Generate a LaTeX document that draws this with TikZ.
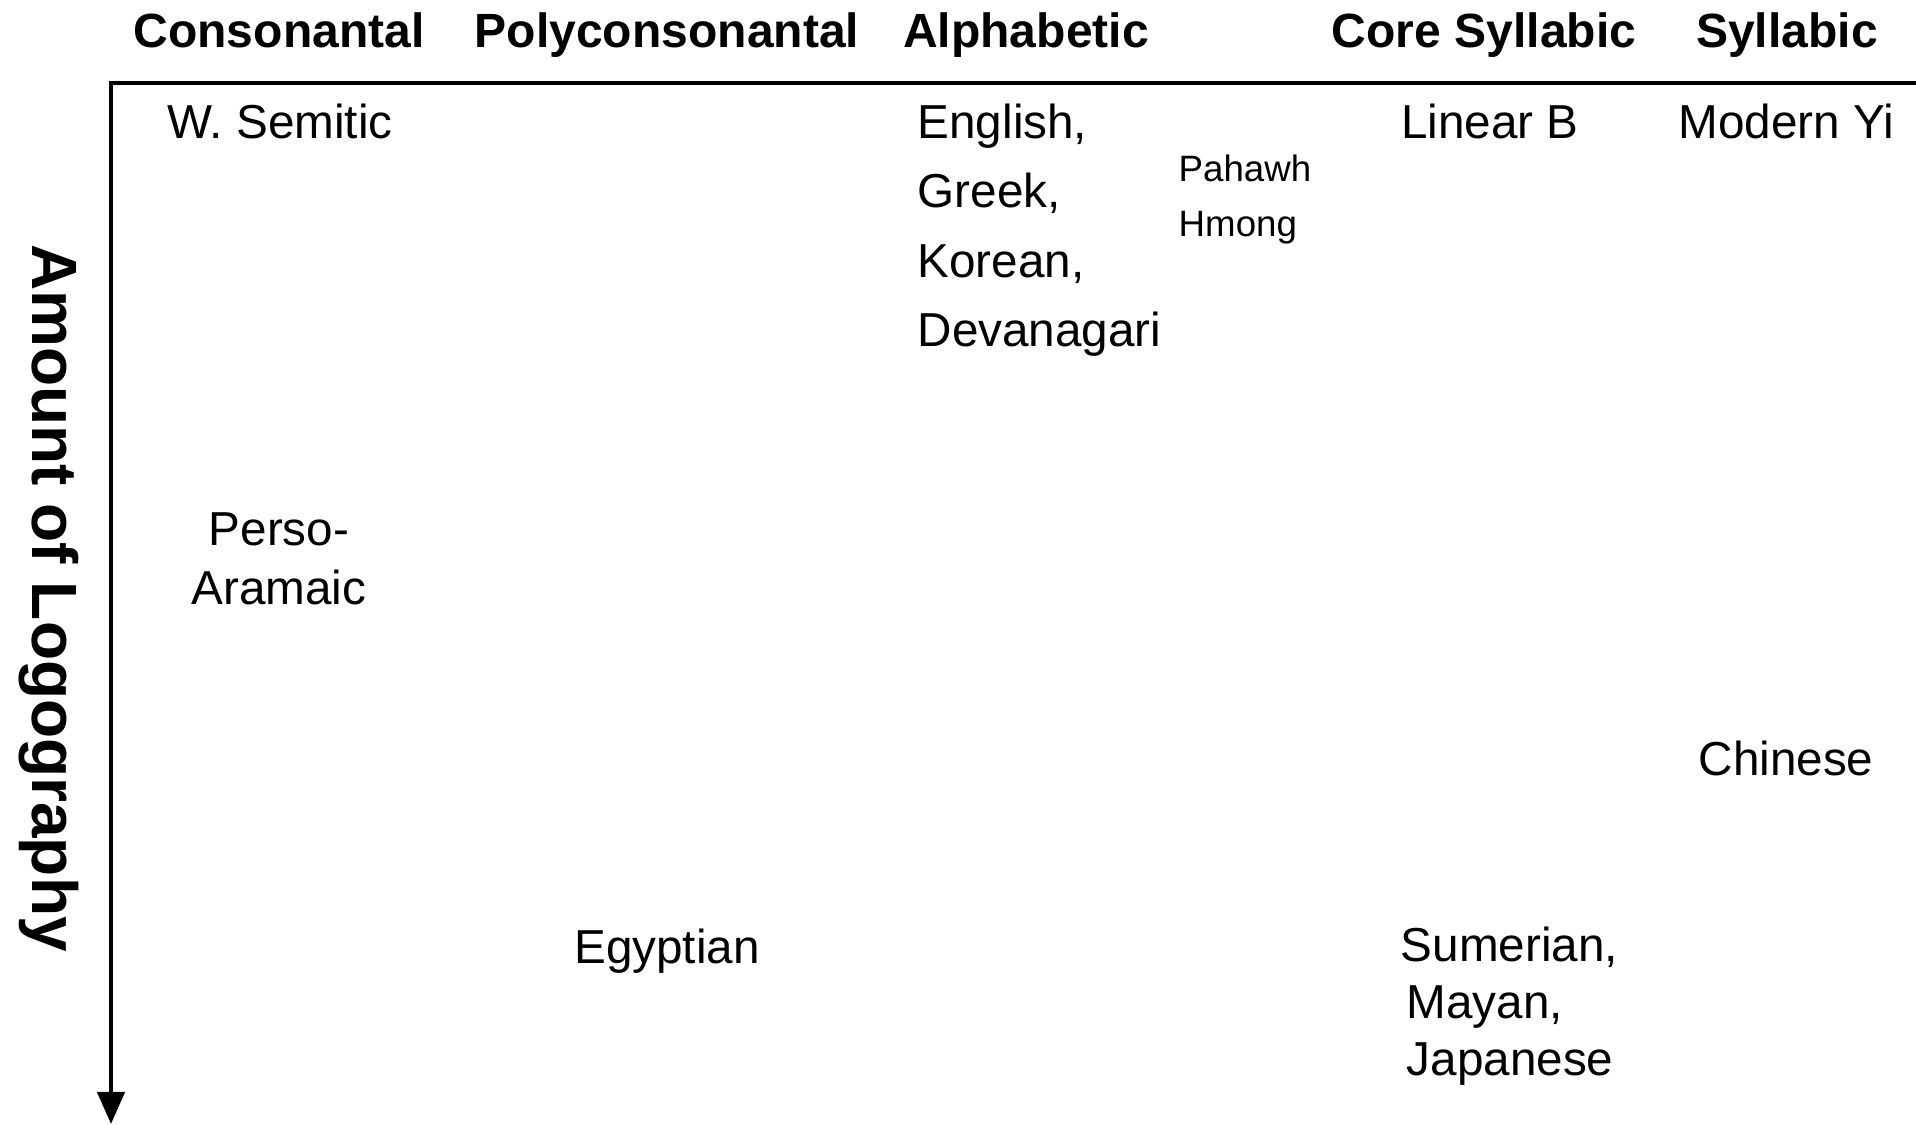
\documentclass[tikz,border=0pt]{standalone}
\usepackage{fontspec}
\setmainfont{Liberation Sans}
\usetikzlibrary{arrows.meta}

\begin{document}
\begin{tikzpicture}[x=0.01cm, y=-0.01cm,
    head/.style={font=\fontsize{13.66}{16}\selectfont\bfseries, inner sep=0pt, anchor=base},
    script/.style={font=\fontsize{13.55}{#1}\selectfont, inner sep=0pt, anchor=base, align=center},
    script/.default=16.3,
    small/.style={font=\fontsize{10.43}{15.65}\selectfont, inner sep=0pt, anchor=base west, align=left}]
        \useasboundingbox (0,0) rectangle (1916,1125);
        % axes
        \coordinate (origin) at (111,83);
        \coordinate (xend) at (1916,83);
        \coordinate (yend) at (111,1124);
        \draw[line width=0.045cm, -{Triangle[width=0.27cm, length=0.32cm]}] (xend) -- (origin) -- (yend);
        \node[rotate=-90, inner sep=0pt, font=\fontsize{18.2}{20}\selectfont\bfseries] (amount) at (49,598) {Amount of Logography};
        % column heads
        \node[head] (cons) at (279,48) {Consonantal};
        \node[head] (poly) at (667,48) {Polyconsonantal};
        \node[head] (alph) at (1026,48) {Alphabetic};
        \node[head] (core) at (1484,48) {Core Syllabic};
        \node[head] (syll) at (1787,48) {Syllabic};
        % scripts (base = last line)
        \node[script] (wsem) at (280,139) {W. Semitic};
        \node[script=19.8, anchor=base west, align=left] (eng) at (917,347) {English,\\Greek,\\Korean,\\Devanagari};
        \node[small] (hmong) at (1178,237) {Pahawh\\Hmong};
        \node[script] (linb) at (1490,139) {Linear B};
        \node[script] (yi) at (1786,139) {Modern Yi};
        \node[script=16.5] (perso) at (279,604) {Perso-\\Aramaic};
        \node[script] (chin) at (1786,775) {Chinese};
        \node[script] (egypt) at (667,963) {Egyptian};
        \node[script=16.1, anchor=base west, align=left] (sum) at (1400,1075) {Sumerian,\\\hspace{0.06cm}Mayan,\\\hspace{0.06cm}Japanese};
    \end{tikzpicture}
\end{document}
